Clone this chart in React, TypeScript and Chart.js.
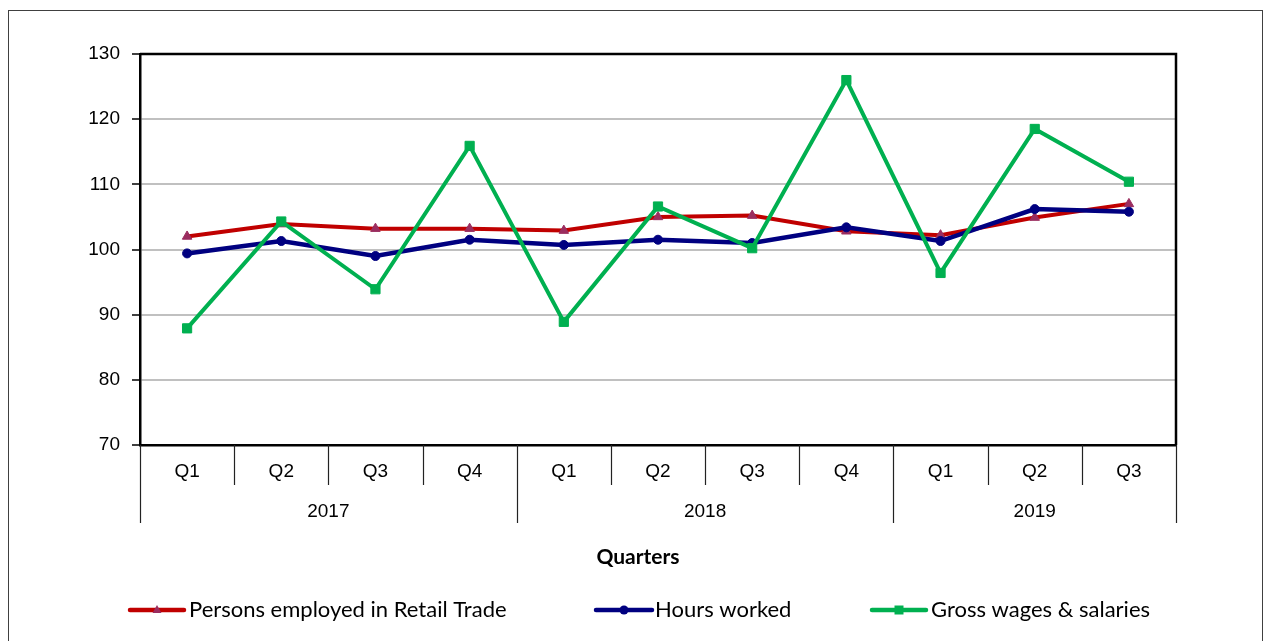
import React, { useEffect, useRef } from "react";
import { Chart, registerables } from "chart.js";

Chart.register(...registerables);

const quarters = ["Q1", "Q2", "Q3", "Q4", "Q1", "Q2", "Q3", "Q4", "Q1", "Q2", "Q3"];
const years = ["2017", "2018", "2019"];
const yearSpans = [4, 4, 3];
const persons = [102.0, 103.9, 103.2, 103.2, 102.9, 105.0, 105.2, 102.8, 102.2, 104.9, 107.0];
const hours = [99.4, 101.3, 99.0, 101.5, 100.7, 101.5, 101.0, 103.4, 101.3, 106.2, 105.8];
const wages = [87.9, 104.3, 93.9, 115.9, 88.9, 106.6, 100.2, 126.0, 96.4, 118.5, 110.4];
const seriesNames = ["Persons employed in Retail Trade", "Hours worked", "Gross wages & salaries"];
const axisTitle = "Quarters";

const W = 1264;
const H = 641;
const ARIAL = "'Liberation Sans', Arial, sans-serif";
const LATO = "Lato, 'Noto Sans', sans-serif";

const RED = "#C00000";
const TRI = "#9B2D5F";
const NAVY = "#000080";
const GREEN = "#00B050";

function drawMarker(ctx: CanvasRenderingContext2D, style: string, x: number, y: number, r: number, color: string) {
  ctx.save();
  ctx.fillStyle = color;
  ctx.beginPath();
  if (style === "triangle") {
    ctx.moveTo(x, y - r);
    ctx.lineTo(x + r * 0.9, y + r * 0.6);
    ctx.lineTo(x - r * 0.9, y + r * 0.6);
    ctx.closePath();
  } else if (style === "circle") {
    ctx.arc(x, y, r, 0, Math.PI * 2);
  } else {
    ctx.rect(x - r, y - r, 2 * r, 2 * r);
  }
  ctx.fill();
  ctx.restore();
}

const decorPlugin = {
  id: "decor",
  afterDraw(chart: any) {
    const ctx: CanvasRenderingContext2D = chart.ctx;
    const area = chart.chartArea;
    const xs = chart.scales.x;
    ctx.save();
    // outer frame
    ctx.strokeStyle = "#404040";
    ctx.lineWidth = 1;
    ctx.strokeRect(8.5, 10.5, 1254, 700);
    // plot top / right border
    ctx.strokeStyle = "#000";
    ctx.lineWidth = 2.5;
    ctx.beginPath();
    ctx.moveTo(area.left, area.top);
    ctx.lineTo(area.right, area.top);
    ctx.lineTo(area.right, area.bottom);
    ctx.stroke();

    // category separators
    const n = quarters.length;
    const yearBounds = new Set<number>();
    let acc = 0;
    yearBounds.add(0);
    yearSpans.forEach((s) => {
      acc += s;
      yearBounds.add(acc);
    });
    ctx.lineWidth = 1.2;
    ctx.strokeStyle = "#222";
    for (let i = 0; i <= n; i++) {
      const xb = Math.round(xs.getPixelForValue(i - 0.5)) + 0.5;
      const len = yearBounds.has(i) ? 78 : 40;
      ctx.beginPath();
      ctx.moveTo(xb, area.bottom);
      ctx.lineTo(xb, area.bottom + len);
      ctx.stroke();
    }
    // year labels
    ctx.fillStyle = "#000";
    ctx.font = `19px ${ARIAL}`;
    ctx.textAlign = "center";
    ctx.textBaseline = "middle";
    let start = 0;
    years.forEach((yr, k) => {
      const end = start + yearSpans[k];
      const x0 = xs.getPixelForValue(start - 0.5);
      const x1 = xs.getPixelForValue(end - 0.5);
      ctx.fillText(yr, (x0 + x1) / 2, area.bottom + 67);
      start = end;
    });
    // axis title
    ctx.font = `bold 21px ${LATO}`;
    ctx.fillText(axisTitle, (area.left + area.right) / 2 - 20, 557);

    // legend
    const items = [
      { color: RED, mark: TRI, style: "triangle", r: 5, x0: 130, x1: 184, tx: 189 },
      { color: NAVY, mark: NAVY, style: "circle", r: 4.5, x0: 596, x1: 652, tx: 655 },
      { color: GREEN, mark: GREEN, style: "rect", r: 4.5, x0: 872, x1: 926, tx: 931 },
    ];
    const ly = 610;
    ctx.font = `22px ${LATO}`;
    ctx.textAlign = "left";
    items.forEach((it, i) => {
      ctx.strokeStyle = it.color;
      ctx.lineWidth = 4.5;
      ctx.lineCap = "round";
      ctx.beginPath();
      ctx.moveTo(it.x0, ly);
      ctx.lineTo(it.x1, ly);
      ctx.stroke();
      drawMarker(ctx, it.style, (it.x0 + it.x1) / 2, ly, it.r, it.mark);
      ctx.fillStyle = "#000";
      ctx.fillText(seriesNames[i], it.tx, ly);
    });
    ctx.restore();
  },
};

export default function App() {
  const ref = useRef<HTMLCanvasElement | null>(null);
  useEffect(() => {
    if (!ref.current) return;
    const chart = new Chart(ref.current, {
      type: "line",
      data: {
        labels: quarters,
        datasets: [
          {
            label: seriesNames[0],
            data: persons,
            borderColor: RED,
            borderWidth: 4,
            pointStyle: "triangle",
            pointRadius: 5.5,
            pointBackgroundColor: TRI,
            pointBorderColor: TRI,
            pointBorderWidth: 1,
            tension: 0,
            order: 3,
          },
          {
            label: seriesNames[1],
            data: hours,
            borderColor: NAVY,
            borderWidth: 4.5,
            pointStyle: "circle",
            pointRadius: 4.5,
            pointBackgroundColor: NAVY,
            pointBorderColor: NAVY,
            pointBorderWidth: 1,
            tension: 0,
            order: 2,
          },
          {
            label: seriesNames[2],
            data: wages,
            borderColor: GREEN,
            borderWidth: 4,
            pointStyle: "rect",
            pointRadius: 6.5,
            pointBackgroundColor: GREEN,
            pointBorderColor: GREEN,
            pointBorderWidth: 1,
            tension: 0,
            order: 1,
          },
        ],
      },
      options: {
        animation: false,
        responsive: false,
        maintainAspectRatio: false,
        layout: { padding: { left: 0, top: 54, right: W - 1176, bottom: 0 } },
        plugins: {
          legend: { display: false },
          tooltip: { enabled: false },
          title: { display: false },
        },
        scales: {
          x: {
            type: "category",
            offset: true,
            grid: { display: false, drawTicks: false },
            border: { display: true, color: "#000", width: 2.5 },
            ticks: {
              color: "#000",
              font: { family: ARIAL, size: 19 },
              padding: 15,
              maxRotation: 0,
              autoSkip: false,
            },
            afterFit: (s: any) => {
              s.height = H - 445;
            },
          },
          y: {
            min: 70,
            max: 130,
            ticks: {
              stepSize: 10,
              color: "#000",
              font: { family: ARIAL, size: 19 },
              padding: 12,
            },
            grid: {
              color: "#C0C0C0",
              lineWidth: 2,
              tickLength: 8,
              tickColor: "#000",
              tickWidth: 1.5,
            },
            border: { display: true, color: "#000", width: 2.5 },
            afterFit: (s: any) => {
              s.width = 140;
            },
          },
        },
      },
      plugins: [decorPlugin],
    });
    return () => chart.destroy();
  }, []);
  return (
    <div style={{ position: "absolute", left: 0, top: 0, width: W, height: H, background: "#fff" }}>
      <canvas ref={ref} width={W} height={H} style={{ display: "block", width: W, height: H }} />
    </div>
  );
}
